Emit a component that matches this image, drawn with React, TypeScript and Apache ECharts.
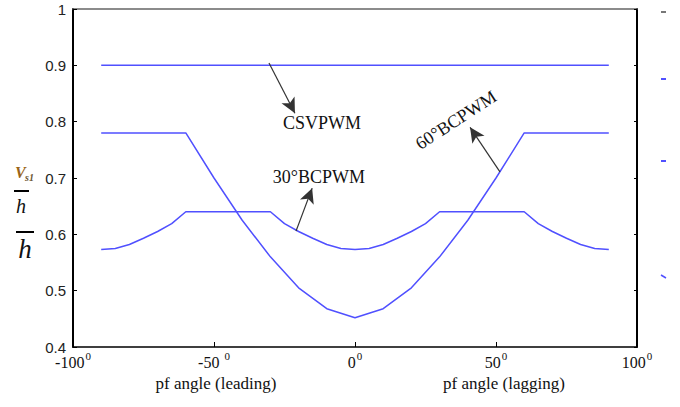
import React, { useEffect, useRef } from "react";
import * as echarts from "echarts";

// ---- data ----
const csvX = [-90, 90];
const csvY = [0.9, 0.9];

const bc60X = [-90, -60, -50, -40, -30, -20, -10, 0, 10, 20, 30, 40, 50, 60, 90];
const bc60Y = [0.78, 0.78, 0.70, 0.625, 0.56, 0.505, 0.468, 0.452, 0.468, 0.505, 0.56, 0.625, 0.70, 0.78, 0.78];

const bc30X = [-90, -85, -80, -75, -70, -65, -60, -30, -25, -20, -15, -10, -5, 0, 5, 10, 15, 20, 25, 30, 60, 65, 70, 75, 80, 85, 90];
const bc30Y = [0.573, 0.575, 0.582, 0.593, 0.605, 0.619, 0.64, 0.64, 0.619, 0.605, 0.593, 0.582, 0.575, 0.573, 0.575, 0.582, 0.593, 0.605, 0.619, 0.64, 0.64, 0.619, 0.605, 0.593, 0.582, 0.575, 0.573];

const xTickLabels = ["-100", "-50 ", "0", "50", "100"];
const xNames = ["pf angle (leading)", "pf angle (lagging)"];

// annotation anchors in data coordinates
const arrowFrom = [[-30.5, 0.904], [-20.9, 0.606], [51.4, 0.711]];
const arrowTo = [[-21.3, 0.815], [-15.2, 0.682], [40.8, 0.79]];
const labelTexts = ["CSVPWM", "30°BCPWM", "60°BCPWM"];
const labelPos = [[-11.7, 0.798], [-12.8, 0.702], [35.8, 0.803]];
const labelRot = [0, 0, 33];

const zip = (xs: number[], ys: number[]) => xs.map((x, i) => [x, ys[i]]);

const BLUE = "#5050ff";
const SERIF = "'Liberation Serif', 'Times New Roman', serif";
const SANS = "'Liberation Sans', Arial, sans-serif";

export default function App() {
  const ref = useRef<HTMLDivElement>(null);
  useEffect(() => {
    if (!ref.current) return;
    const chart = echarts.init(ref.current, null, { renderer: "svg" });
    const lineSeries = (name: string, data: number[][], extra: any = {}) => ({
      name,
      type: "line",
      data,
      showSymbol: false,
      symbol: "none",
      lineStyle: { color: BLUE, width: 1.5 },
      itemStyle: { color: BLUE },
      emphasis: { disabled: true },
      ...extra,
    });
    chart.setOption({
      animation: false,
      backgroundColor: "#fff",
      grid: { left: 73, right: 43, top: 9, bottom: 60 },
      xAxis: [
        {
          type: "value",
          min: -100,
          max: 100,
          interval: 50,
          axisLine: { show: true, onZero: false, lineStyle: { color: "#000", width: 1.5 } },
          axisTick: { show: true, inside: true, length: 5, lineStyle: { color: "#000", width: 1 } },
          splitLine: { show: false },
          axisLabel: {
            margin: 3,
            formatter: (v: number) => `{n|${xTickLabels[Math.round((v + 100) / 50)]}}{s|0}`,
            rich: {
              n: { fontFamily: SERIF, fontSize: 16, color: "#111", verticalAlign: "bottom", lineHeight: 20 },
              s: { fontFamily: SERIF, fontSize: 11, color: "#111", verticalAlign: "top", lineHeight: 20, padding: [0, 0, 12, 1] },
            },
          },
        },
        {
          type: "value",
          position: "top",
          min: -100,
          max: 100,
          axisLine: { show: true, onZero: false, lineStyle: { color: "#666", width: 1.5 } },
          axisTick: { show: false },
          axisLabel: { show: false },
          splitLine: { show: false },
        },
      ],
      yAxis: [
        {
          type: "value",
          min: 0.4,
          max: 1,
          interval: 0.1,
          axisLine: { show: true, onZero: false, lineStyle: { color: "#000", width: 2 } },
          axisTick: { show: true, inside: true, length: 4, lineStyle: { color: "#000" } },
          splitLine: { show: false },
          axisLabel: {
            margin: 7,
            fontFamily: SANS,
            fontSize: 15,
            color: "#222",
            formatter: (v: number) => String(parseFloat(v.toFixed(1))),
          },
        },
        {
          type: "value",
          position: "right",
          min: 0,
          max: 6,
          interval: 1,
          axisLine: { show: true, onZero: false, lineStyle: { color: "#000", width: 2 } },
          axisTick: { show: true, inside: true, length: 3, lineStyle: { color: "#000" } },
          axisLabel: { show: false },
          splitLine: { show: false },
        },
      ],
      series: [
        lineSeries("CSVPWM", zip(csvX, csvY), {
          markLine: {
            silent: true,
            symbol: ["none", "arrow"],
            symbolSize: [11, 15],
            lineStyle: { color: "#333", width: 1.2, type: "solid" },
            itemStyle: { color: "#111" },
            label: { show: false },
            emphasis: { disabled: true },
            data: arrowFrom.map((f, i) => [{ coord: f }, { coord: arrowTo[i] }]),
          },
        }),
        lineSeries("60°BCPWM", zip(bc60X, bc60Y)),
        lineSeries("30°BCPWM", zip(bc30X, bc30Y)),
      ],
    });

    const px = (p: number[]) => chart.convertToPixel({ gridIndex: 0 }, p) as number[];
    const labels = labelTexts.map((t, i) => {
      const [x, y] = px(labelPos[i]);
      return {
        type: "text",
        x,
        y,
        rotation: (labelRot[i] * Math.PI) / 180,
        silent: true,
        style: {
          text: t,
          fontFamily: SERIF,
          fontSize: 18,
          fill: "#111",
          align: "center",
          verticalAlign: "middle",
        },
      };
    });
    const [xl] = px([-50, 0.4]);
    const [xr] = px([50, 0.4]);
    const axisNames = [xl + 2, xr + 8].map((x, i) => ({
      type: "text",
      x,
      y: 383,
      silent: true,
      style: { text: xNames[i], fontFamily: SERIF, fontSize: 17, fill: "#111", align: "center", verticalAlign: "middle" },
    }));
    const yName = [
      { type: "text", x: 15, y: 172, style: { text: "V", fontFamily: SERIF, fontStyle: "italic", fontWeight: "bold", fontSize: 16, fill: "#9a6418", verticalAlign: "middle" } },
      { type: "text", x: 25, y: 177, style: { text: "s1", fontFamily: SERIF, fontStyle: "italic", fontWeight: "bold", fontSize: 10, fill: "#6b5530", verticalAlign: "middle" } },
      { type: "line", shape: { x1: 14, y1: 191, x2: 29, y2: 191 }, style: { stroke: "#000", lineWidth: 2 } },
      { type: "text", x: 21, y: 206, style: { text: "h", fontFamily: SERIF, fontStyle: "italic", fontSize: 20, fill: "#111", align: "center", verticalAlign: "middle" } },
      { type: "line", shape: { x1: 16, y1: 232, x2: 34, y2: 232 }, style: { stroke: "#000", lineWidth: 2 } },
      { type: "text", x: 25, y: 249, style: { text: "h", fontFamily: SERIF, fontStyle: "italic", fontSize: 27, fill: "#111", align: "center", verticalAlign: "middle" } },
    ];
    const dashes = [
      { type: "rect", shape: { x: 661, y: 11, width: 5, height: 2 }, style: { fill: "#777" } },
      { type: "rect", shape: { x: 661, y: 78, width: 5, height: 2 }, style: { fill: BLUE } },
      { type: "rect", shape: { x: 661, y: 160, width: 5, height: 2 }, style: { fill: BLUE } },
      { type: "line", shape: { x1: 661, y1: 275, x2: 666, y2: 278 }, style: { stroke: BLUE, lineWidth: 1.5 } },
    ];
    chart.setOption({ graphic: [...labels, ...axisNames, ...yName, ...dashes] });

    return () => chart.dispose();
  }, []);
  return <div ref={ref} style={{ width: 680, height: 407, position: "absolute", left: 0, top: 0 }} />;
}
